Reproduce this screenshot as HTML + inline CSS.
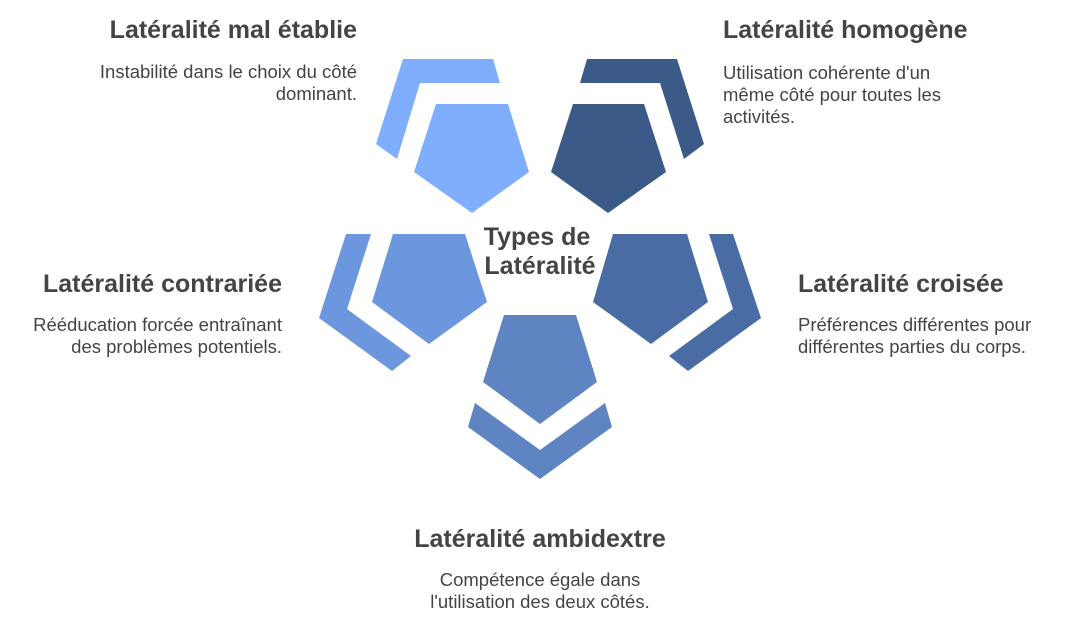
<!DOCTYPE html>
<html><head><meta charset="utf-8"><style>
html,body{margin:0;padding:0;background:#fff;}
svg{display:block;}
text{font-family:"Liberation Sans",Arial,sans-serif;fill:#444;}
.t{font-size:25px;font-weight:bold;}
.d{font-size:18.5px;}
</style></head><body>
<svg width="1065" height="630" viewBox="0 0 1065 630" xmlns="http://www.w3.org/2000/svg">
<polygon fill="#7FAEFF" points="436,104 508,104 529,172 472,213 414,172"/>
<polygon fill="#7FAEFF" points="403,59 493,59 500,83 420,83 397,159 376,144"/>
<polygon fill="#3B5A87" points="573,104 644,104 666,172 608,213 551,172"/>
<polygon fill="#3B5A87" points="587,59 677,59 704,144 684,159 660,83 580,83"/>
<polygon fill="#6C97DE" points="393,234 465,234 487,302 429,344 372,302"/>
<polygon fill="#6C97DE" points="346,234 371,234 347,309 411,356 392,371 319,318"/>
<polygon fill="#4A6CA5" points="613,234 687,234 708,302 651,344 593,302"/>
<polygon fill="#4A6CA5" points="709,234 733,234 761,318 688,371 669,356 733,309"/>
<polygon fill="#5E84C2" points="504,315 576,315 597,382 540,424 483,382"/>
<polygon fill="#5E84C2" points="475,403 540,450 605,403 612,427 540,479 468,427"/>

<text class="t" x="537" y="245" text-anchor="middle">Types de</text>
<text class="t" x="540" y="274" text-anchor="middle">Latéralité</text>

<text class="t" x="357" y="38" text-anchor="end">Latéralité mal établie</text>
<text class="d" x="357" y="78" text-anchor="end">Instabilité dans le choix du côté</text>
<text class="d" x="357" y="100" text-anchor="end">dominant.</text>

<text class="t" x="723" y="38">Latéralité homogène</text>
<text class="d" x="723" y="79">Utilisation cohérente d'un</text>
<text class="d" x="723" y="101">même côté pour toutes les</text>
<text class="d" x="723" y="123">activités.</text>

<text class="t" x="282" y="292" text-anchor="end">Latéralité contrariée</text>
<text class="d" x="282" y="331" text-anchor="end">Rééducation forcée entraînant</text>
<text class="d" x="282" y="353" text-anchor="end">des problèmes potentiels.</text>

<text class="t" x="798" y="292">Latéralité croisée</text>
<text class="d" x="798" y="331">Préférences différentes pour</text>
<text class="d" x="798" y="353">différentes parties du corps.</text>

<text class="t" x="540" y="547" text-anchor="middle">Latéralité ambidextre</text>
<text class="d" x="540" y="586" text-anchor="middle">Compétence égale dans</text>
<text class="d" x="540" y="608" text-anchor="middle">l'utilisation des deux côtés.</text>
</svg>
</body></html>
